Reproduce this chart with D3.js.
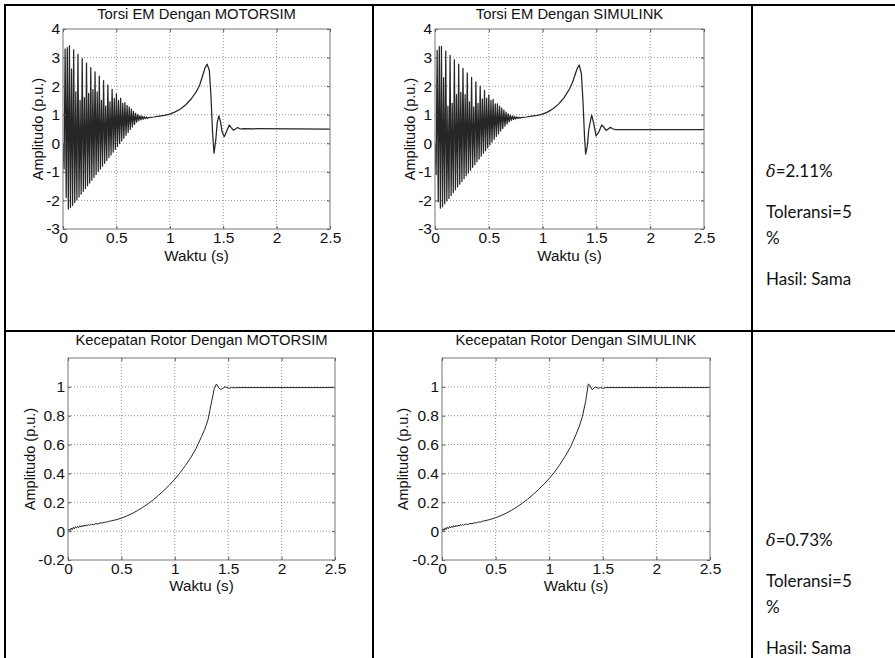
<!DOCTYPE html>
<html><head><meta charset="utf-8">
<script src="https://cdn.jsdelivr.net/npm/d3@7"></script>
<style>body{margin:0;background:#fff}svg{display:block}</style>
</head><body>
<svg id="c" width="895" height="658"></svg>
<script>
// ---------------- DATA ----------------
const torqueOscTime = [0,0.01,0.02,0.03,0.04,0.05,0.06,0.07,0.08,0.09,0.10,0.11,0.12,0.13,0.14,0.15,0.16,0.17,0.18,0.19,0.20,0.21,0.22,0.23,0.24,0.25,0.26,0.27,0.28,0.29,0.30,0.31,0.32,0.33,0.34,0.35,0.36,0.37,0.38,0.39,0.40,0.41,0.42,0.43,0.44,0.45,0.46,0.47,0.48,0.49,0.50,0.51,0.52,0.53,0.54,0.55,0.56,0.57,0.58,0.59,0.60,0.61,0.62,0.63,0.64,0.65,0.66,0.67,0.68,0.69,0.70,0.71,0.72,0.73,0.74,0.75,0.76,0.77,0.78,0.79,0.80];

const torqueMotorsimOsc = [0,-0.9,3.3,-1.9,3.35,-2.3,3.42,-2.25,2.6,-2.17,3.27,-2.07,1.8,-1.98,3.11,-1.88,1.5,-1.78,2.96,-1.68,1.6,-1.58,2.81,-1.49,1.75,-1.39,2.65,-1.29,1.88,-1.19,2.5,-1.09,1.8,-0.99,2.35,-0.9,1.5,-0.8,2.19,-0.7,1.3,-0.6,2.04,-0.5,1.45,-0.41,1.89,-0.31,1.57,-0.21,1.73,-0.11,1.5,-0.01,1.58,0.08,1.4,0.18,1.42,0.28,1.33,0.38,1.27,0.48,1.2,0.57,1.12,0.66,1.05,0.74,1.0,0.79,0.97,0.82,0.95,0.84,0.93,0.86,0.92,0.87,0.9];
const torqueMotorsimTailTime = [0.85,0.9,0.95,1.0,1.05,1.1,1.15,1.2,1.25,1.28,1.31,1.33,1.35,1.37,1.385,1.40,1.414,1.43,1.445,1.46,1.475,1.49,1.51,1.53,1.557,1.575,1.595,1.615,1.635,1.66,1.69,2.5];
const torqueMotorsimTail = [0.92,0.95,0.98,1.02,1.1,1.2,1.35,1.55,1.82,2.04,2.4,2.64,2.77,2.55,1.7,0.4,-0.35,0.1,0.75,0.96,0.75,0.4,0.23,0.4,0.64,0.55,0.46,0.5,0.55,0.5,0.51,0.5];

const torqueSimulinkOsc = [0,-1.1,3.25,-2.05,3.38,-2.27,3.39,-2.22,2.3,-2.12,3.23,-2.02,1.3,-1.93,3.08,-1.83,1.4,-1.73,2.92,-1.63,1.7,-1.53,2.77,-1.43,1.78,-1.34,2.62,-1.24,1.7,-1.14,2.46,-1.04,1.45,-0.94,2.31,-0.84,1.27,-0.75,2.15,-0.65,1.4,-0.55,2.0,-0.45,1.55,-0.35,1.85,-0.26,1.58,-0.16,1.69,-0.06,1.5,0.04,1.54,0.14,1.38,0.24,1.38,0.33,1.3,0.43,1.23,0.52,1.16,0.6,1.09,0.68,1.03,0.75,0.99,0.8,0.96,0.83,0.94,0.85,0.92,0.87,0.91,0.88,0.9];
const torqueSimulinkTailTime = [0.85,0.9,0.95,1.0,1.05,1.1,1.15,1.2,1.25,1.28,1.30,1.32,1.34,1.36,1.375,1.39,1.40,1.415,1.43,1.456,1.475,1.497,1.52,1.55,1.57,1.59,1.61,1.63,1.655,1.68,2.5];
const torqueSimulinkTail = [0.92,0.95,0.98,1.02,1.1,1.22,1.38,1.6,1.9,2.15,2.38,2.6,2.74,2.45,1.5,0.2,-0.38,-0.1,0.5,0.99,0.7,0.26,0.38,0.64,0.56,0.45,0.5,0.56,0.5,0.48,0.48];

const speedTime = [0,0.01,0.02,0.03,0.04,0.05,0.06,0.07,0.08,0.09,0.10,0.11,0.12,0.13,0.14,0.15,0.16,0.17,0.18,0.19,0.20,0.22,0.24,0.26,0.28,0.30,0.32,0.34,0.36,0.38,0.40,0.45,0.5,0.55,0.6,0.65,0.7,0.75,0.8,0.85,0.9,0.95,1.0,1.05,1.1,1.15,1.2,1.25,1.28,1.31,1.34,1.37,1.39,1.41,1.43,1.45,1.47,1.49,1.51,1.53,1.56,1.6,2.5];
const speedMotorsim = [0,0.014,0.004,0.022,0.01,0.027,0.016,0.031,0.021,0.034,0.025,0.037,0.028,0.04,0.031,0.042,0.034,0.044,0.037,0.046,0.04,0.048,0.045,0.052,0.05,0.057,0.056,0.062,0.062,0.068,0.07,0.079,0.09,0.105,0.122,0.142,0.165,0.19,0.218,0.25,0.283,0.32,0.36,0.405,0.455,0.51,0.575,0.655,0.705,0.77,0.88,0.99,1.02,0.995,0.982,0.99,1.0,0.995,0.99,0.995,0.994,0.995,0.995];
const speedSimulinkTime = [0,0.01,0.02,0.03,0.04,0.05,0.06,0.07,0.08,0.09,0.10,0.11,0.12,0.13,0.14,0.15,0.16,0.17,0.18,0.19,0.20,0.22,0.24,0.26,0.28,0.30,0.32,0.34,0.36,0.38,0.40,0.45,0.5,0.55,0.6,0.65,0.7,0.75,0.8,0.85,0.9,0.95,1.0,1.05,1.1,1.15,1.2,1.25,1.28,1.31,1.34,1.365,1.38,1.40,1.43,1.46,1.48,1.5,1.53,2.5];
const speedSimulink = [0,0.016,0.005,0.023,0.011,0.028,0.017,0.032,0.022,0.035,0.026,0.038,0.029,0.041,0.032,0.043,0.035,0.045,0.038,0.047,0.041,0.049,0.046,0.053,0.051,0.058,0.057,0.063,0.063,0.069,0.072,0.081,0.093,0.108,0.125,0.145,0.168,0.194,0.222,0.254,0.288,0.325,0.365,0.41,0.462,0.52,0.585,0.67,0.725,0.795,0.9,1.02,1.01,0.98,1.0,0.99,0.995,0.99,0.995,0.995];

const xTicks = [0,0.5,1,1.5,2,2.5];
const torqueYTicks = [-3,-2,-1,0,1,2,3,4];
const speedYTicks = [-0.2,0,0.2,0.4,0.6,0.8,1];
const chartTitles = ["Torsi EM Dengan MOTORSIM","Torsi EM Dengan SIMULINK","Kecepatan Rotor Dengan MOTORSIM","Kecepatan Rotor Dengan SIMULINK"];
const xLabel = "Waktu (s)";
const yLabel = "Amplitudo (p.u.)";
const deltaValues = ["2.11%","0.73%"];
const toleranceText = ["Toleransi=5","%"];
const resultText = "Hasil: Sama";

// ---------------- LAYOUT ----------------
const svg = d3.select("#c");
svg.append("rect").attr("width",895).attr("height",658).attr("fill","#fff");

function zip(t, v){ return t.map((d,i)=>({t:d, v:v[i]})); }

const panels = [
  {box:[63,330,29,229], titleY:14, xLabY:255, yLabX:38, yDom:[-3,4], yTicks:torqueYTicks, w:1.25,
   series: zip(torqueOscTime.concat(torqueMotorsimTailTime), torqueMotorsimOsc.concat(torqueMotorsimTail))},
  {box:[435,704,29,229], titleY:14, xLabY:255, yLabX:410, yDom:[-3,4], yTicks:torqueYTicks, w:1.25,
   series: zip(torqueOscTime.concat(torqueSimulinkTailTime), torqueSimulinkOsc.concat(torqueSimulinkTail))},
  {box:[68,335,358,560], titleY:340, xLabY:585, yLabX:30, yDom:[-0.2,1.2], yTicks:speedYTicks, w:1,
   series: zip(speedTime, speedMotorsim)},
  {box:[442,710,358,560], titleY:340, xLabY:585, yLabX:403, yDom:[-0.2,1.2], yTicks:speedYTicks, w:1,
   series: zip(speedSimulinkTime, speedSimulink)}
];

const FONT = "'Liberation Sans', Arial, Helvetica, sans-serif";
const fmt = d => String(d);

panels.forEach((p, k) => {
  const [L,R,T,B] = p.box;
  const x = d3.scaleLinear().domain([0,2.5]).range([L,R]);
  const y = d3.scaleLinear().domain(p.yDom).range([B,T]);
  const g = svg.append("g");

  // grid
  const grid = g.append("g").attr("stroke","#777").attr("stroke-width",0.8).attr("stroke-dasharray","1,2");
  grid.selectAll(".gx").data(xTicks.slice(1,-1)).join("line")
    .attr("x1",d=>x(d)).attr("x2",d=>x(d)).attr("y1",T).attr("y2",B);
  grid.selectAll(".gy").data(p.yTicks.filter(d=>y(d)<B-1 && y(d)>T+1)).join("line")
    .attr("y1",d=>y(d)).attr("y2",d=>y(d)).attr("x1",L).attr("x2",R);

  // clip
  const cid = "clip"+k;
  svg.append("clipPath").attr("id",cid).append("rect").attr("x",L).attr("y",T).attr("width",R-L).attr("height",B-T);

  // line
  g.append("path").datum(p.series)
    .attr("clip-path",`url(#${cid})`)
    .attr("fill","none").attr("stroke","#262626").attr("stroke-width",p.w)
    .attr("stroke-linejoin","round")
    .attr("d", d3.line().x(d=>x(d.t)).y(d=>y(d.v)));

  // axes
  const ax = (a) => a.tickSizeOuter(0).tickSizeInner(-3).tickPadding(3);
  const bottom = g.append("g").attr("transform",`translate(0,${B})`)
    .call(ax(d3.axisBottom(x).tickValues(xTicks).tickFormat(fmt)));
  const top = g.append("g").attr("transform",`translate(0,${T})`)
    .call(ax(d3.axisTop(x).tickValues(xTicks).tickFormat("")));
  const left = g.append("g").attr("transform",`translate(${L},0)`)
    .call(ax(d3.axisLeft(y).tickValues(p.yTicks).tickFormat(fmt)));
  const right = g.append("g").attr("transform",`translate(${R},0)`)
    .call(ax(d3.axisRight(y).tickValues(p.yTicks).tickFormat("")));
  [bottom,top,left,right].forEach(a => {
    a.select(".domain").remove();
    a.selectAll("line").attr("stroke","#555");
    a.selectAll("text").attr("fill","#111").style("font-family",FONT).style("font-size","15.5px");
  });
  bottom.selectAll("text").attr("dy","0.72em");

  // box
  g.append("rect").attr("x",L).attr("y",T).attr("width",R-L).attr("height",B-T)
    .attr("fill","none").attr("stroke","#777").attr("stroke-width",1);

  // labels
  g.append("text").attr("x",(L+R)/2).attr("y",p.titleY).attr("text-anchor","middle")
    .attr("dominant-baseline","central").style("font-family",FONT).style("font-size","14.8px")
    .attr("fill","#111").text(chartTitles[k]);
  g.append("text").attr("x",(L+R)/2).attr("y",p.xLabY).attr("text-anchor","middle")
    .attr("dominant-baseline","central").style("font-family",FONT).style("font-size","15.2px")
    .attr("fill","#111").text(xLabel);
  g.append("text").attr("transform",`translate(${p.yLabX},${(T+B)/2}) rotate(-90)`)
    .attr("text-anchor","middle").attr("dominant-baseline","central")
    .style("font-family",FONT).style("font-size","14.5px").attr("fill","#111").text(yLabel);
});

// table borders
const tb = svg.append("g").attr("stroke","#000").attr("stroke-width",2);
tb.append("line").attr("x1",4).attr("x2",895).attr("y1",5).attr("y2",5);
tb.append("line").attr("x1",5).attr("x2",5).attr("y1",4).attr("y2",658);
tb.append("line").attr("x1",373).attr("x2",373).attr("y1",4).attr("y2",658);
tb.append("line").attr("x1",752).attr("x2",752).attr("y1",4).attr("y2",658);
tb.append("line").attr("x1",4).attr("x2",895).attr("y1",331).attr("y2",331);

// right column text
const TFONT = "Lato, 'Open Sans', Calibri, sans-serif";
const rows = [{base:0}, {base:369}];
rows.forEach((r,i) => {
  const tg = svg.append("g").style("font-family",TFONT).style("font-size","17px").attr("fill","#111");
  const t1 = tg.append("text").attr("x",766).attr("y",177+r.base);
  t1.append("tspan").style("font-family","'DejaVu Serif', serif").style("font-style","italic").style("font-size","16px").text("δ");
  t1.append("tspan").text("=" + deltaValues[i]);
  tg.append("text").attr("x",766).attr("y",218+r.base).text(toleranceText[0]);
  tg.append("text").attr("x",766).attr("y",244+r.base).text(toleranceText[1]);
  tg.append("text").attr("x",766).attr("y",285+r.base).text(resultText);
});
</script>
</body></html>
